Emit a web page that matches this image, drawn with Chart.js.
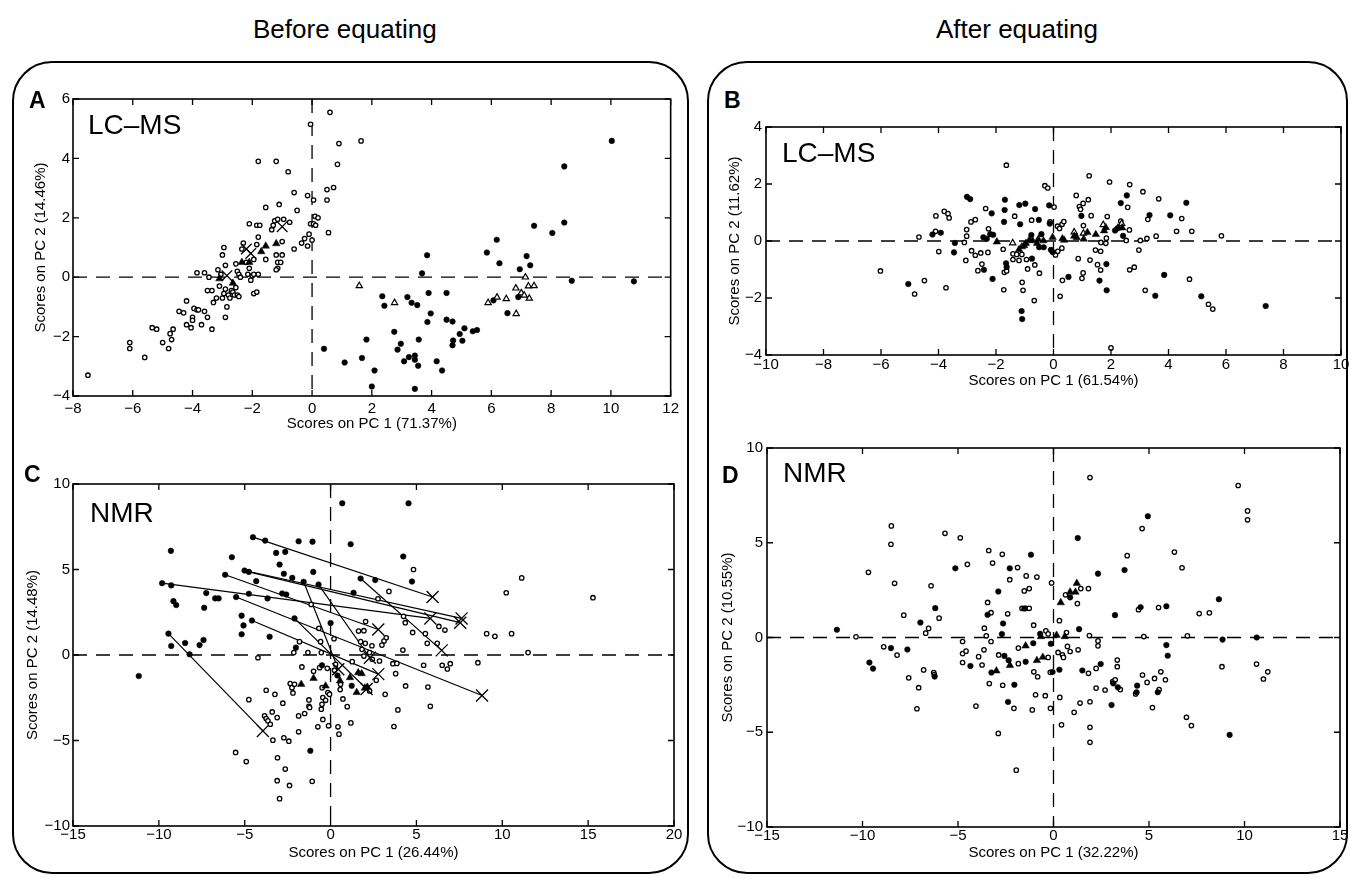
<!DOCTYPE html>
<html><head><meta charset="utf-8">
<script src="https://cdn.jsdelivr.net/npm/chart.js@4.4.1/dist/chart.umd.min.js"></script>
<style>
body{margin:0;background:#fff;width:1350px;height:878px;position:relative;overflow:hidden;font-family:"Liberation Sans",Arial,sans-serif;}
.box{position:absolute;border:2px solid #000;border-radius:40px;box-sizing:border-box;}
.t{position:absolute;white-space:nowrap;color:#000;}
canvas{position:absolute;}
</style></head><body>
<div class="box" style="left:12px;top:61px;width:677px;height:813px"></div>
<div class="box" style="left:707px;top:61px;width:641px;height:813px"></div>
<script>
// ---------- DATA ----------
const titles = ["Before equating", "After equating"];
const panelLetters = ["A", "B", "C", "D"];
const panelNames = ["LC\u2013MS", "LC\u2013MS", "NMR", "NMR"];
const xTitles = ["Scores on PC 1 (71.37%)", "Scores on PC 1 (61.54%)", "Scores on PC 1 (26.44%)", "Scores on PC 1 (32.22%)"];
const yTitles = ["Scores on PC 2 (14.46%)", "Scores on PC 2 (11.62%)", "Scores on PC 2 (14.48%)", "Scores on PC 2 (10.55%)"];
const xRanges = [[-8, 12], [-10, 10], [-15, 20], [-15, 15]];
const yRanges = [[-4, 6], [-4, 4], [-10, 10], [-10, 10]];
const xSteps = [2, 2, 5, 5];
const ySteps = [2, 2, 5, 5];

// Panel A (LC-MS, before)
const A_open = [[-7.5,-3.3],[-6.1,-2.2],[-6.1,-2.4],[-5.6,-2.7],[-5.35,-1.7],[-5.2,-1.75],[-5.0,-2.2],[-4.8,-2.4],[-4.75,-1.9],[-4.7,-2.1],[-4.65,-1.75],[-4.45,-1.15],[-4.3,-1.2],[-4.2,-0.8],[-4.2,-1.6],[-4.05,-1.7],[-4.0,-1.35],[-4.0,-1.45],[-3.95,-1.05],[-3.85,-1.1],[-3.8,-1.1],[-3.7,-1.6],[-3.6,-1.15],[-3.5,-1.35],[-3.35,-1.75],[-3.85,0.15],[-3.6,0.15],[-3.45,0.0],[-3.5,-0.45],[-3.35,-0.45],[-3.3,-0.85],[-3.2,-0.7],[-3.15,0.25],[-3.1,-0.3],[-3.05,0.1],[-3.0,-0.7],[-2.95,-0.55],[-2.9,0.4],[-2.9,-0.4],[-2.85,-1.0],[-2.9,-1.35],[-2.8,-0.6],[-2.75,-0.7],[-2.7,-0.45],[-2.65,-0.5],[-2.6,-0.6],[-2.55,-0.35],[-2.5,-0.6],[-2.45,-0.65],[-3.0,0.75],[-2.95,1.0],[-2.55,0.45],[-2.5,0.2],[-2.45,0.1],[-2.4,0.0],[-2.35,0.95],[-2.3,1.15],[-2.2,0.5],[-2.15,0.1],[-2.1,0.3],[-2.05,-0.1],[-2.0,0.05],[-1.95,0.1],[-1.95,-0.55],[-1.85,-0.5],[-1.95,0.6],[-1.8,0.1],[-2.1,1.8],[-1.85,1.75],[-1.75,1.75],[-1.8,1.35],[-1.85,1.1],[-1.55,2.35],[-1.55,0.6],[-1.35,1.6],[-1.3,1.75],[-1.25,1.9],[-1.15,1.95],[-1.2,0.75],[-1.15,0.3],[-1.2,0.25],[-1.15,0.5],[-1.05,0.5],[-1.0,0.75],[-1.0,1.2],[-0.95,1.95],[-0.75,1.85],[-1.1,2.45],[-0.6,0.95],[-0.6,2.85],[-0.5,2.25],[-1.8,3.9],[-1.2,3.9],[-0.8,3.55],[-0.35,1.15],[-0.25,1.3],[-0.15,1.05],[-0.15,2.75],[-0.1,1.45],[-0.05,1.8],[0.05,1.8],[0.05,2.6],[0.1,2.05],[0.2,2.0],[0.0,1.25],[0.12,1.75],[-0.05,5.15],[0.5,2.95],[0.5,2.6],[0.55,1.5],[0.72,3.02],[0.6,5.55],[0.9,4.5],[1.64,4.59],[0.85,3.8]];
const A_filled = [[0.4,-2.41],[1.09,-2.87],[1.67,-2.72],[1.82,-2.1],[2.0,-3.68],[2.09,-3.14],[2.35,-0.64],[2.42,-0.96],[2.75,-1.84],[2.86,-2.44],[2.97,-2.24],[3.08,-2.83],[3.19,-0.67],[3.24,-2.69],[3.33,-0.86],[3.44,-2.64],[3.44,-2.78],[3.44,-3.76],[3.52,-0.94],[3.55,-2.98],[3.57,-2.1],[3.68,0.13],[3.85,0.74],[3.86,-1.51],[3.9,-0.53],[3.97,-1.22],[4.17,-2.83],[4.35,-3.14],[4.5,-0.53],[4.5,-1.43],[4.7,-1.49],[4.7,-2.29],[4.72,-2.13],[4.94,-1.91],[5.03,-2.14],[5.1,-1.72],[5.38,-1.82],[5.52,-1.78],[5.85,0.83],[6.07,-0.78],[6.18,1.26],[6.27,0.47],[6.54,-1.21],[6.9,-0.67],[6.95,0.27],[7.18,0.71],[7.3,0.4],[7.43,1.73],[8.04,1.49],[8.44,3.73],[8.44,1.84],[8.69,-0.12],[10.03,4.59],[10.77,-0.14]];
const A_openTri = [[1.58,-0.29],[2.76,-0.86],[5.89,-0.86],[6.19,-0.68],[6.5,-0.73],[6.82,-0.37],[6.83,-1.23],[7.0,-0.53],[7.1,-0.61],[7.14,0.0],[7.24,-0.3],[7.27,-0.71],[7.43,-0.29]];
const A_filledTri = [[-1.2,1.13],[-1.55,1.05],[-1.7,0.86],[-2.1,0.5],[-2.35,0.5],[-3.1,-0.05],[-2.65,-0.2]];
const A_cross = [[-1.0,1.7],[-2.2,0.95],[-2.05,0.8],[-2.85,0.05]];

// Panel B (LC-MS, after)
const B_open = [[-6.02,-1.05],[-4.83,-1.86],[-4.68,0.14],[-4.49,-1.39],[-4.09,0.88],[-4.1,0.34],[-3.99,-0.37],[-3.8,1.04],[-3.67,0.96],[-3.63,0.81],[-3.74,-1.64],[-3.1,-0.05],[-3.05,-0.68],[-3.02,0.4],[-3.02,0.17],[-2.87,0.67],[-2.72,0.75],[-2.85,-0.34],[-2.72,-0.5],[-2.63,-1.04],[-2.53,-0.42],[-2.49,-0.81],[-2.36,1.14],[-2.28,-0.4],[-2.26,0.43],[-1.73,-1.71],[-1.71,-1.1],[-1.63,-1.05],[-1.64,2.66],[-1.75,-0.29],[-1.35,0.87],[-1.41,-0.65],[-1.41,-0.45],[-1.28,-0.47],[-1.2,-0.68],[-1.1,-0.47],[-1.09,-1.45],[-1.06,-1.73],[-0.9,-0.98],[-0.94,-0.65],[-0.76,0.73],[-0.65,-0.84],[-0.49,-1.13],[-0.67,-2.09],[-0.3,1.94],[-0.2,1.86],[0.02,1.19],[-0.12,0.67],[0.14,0.52],[0.21,0.44],[0.3,0.59],[0.36,0.68],[0.07,-0.49],[0.15,-0.36],[0.29,-0.25],[0.31,-1.38],[0.23,-1.94],[0.79,1.6],[0.9,1.21],[0.94,1.11],[1.03,1.32],[1.21,1.45],[1.04,0.54],[1.03,-1.12],[0.99,-1.31],[0.86,-0.62],[1.27,-0.67],[1.31,0.89],[1.24,2.29],[1.46,-0.32],[1.64,-0.36],[1.53,-0.83],[1.64,-1.02],[1.84,0.1],[1.82,-0.08],[1.65,-0.05],[1.87,0.86],[1.95,2.07],[2.0,-3.75],[2.34,0.7],[2.53,0.02],[2.64,0.39],[2.58,1.18],[2.65,1.98],[2.81,-0.92],[2.65,-1.01],[2.97,-0.32],[3.02,0.02],[3.25,0.09],[3.28,0.76],[3.11,1.73],[3.19,-1.73],[3.57,0.17],[3.66,1.48],[4.28,0.34],[4.46,0.79],[4.81,0.34],[4.73,-1.34],[5.39,-2.22],[5.54,-2.39],[5.84,0.18]];
const B_filled = [[-5.05,-1.51],[-4.21,0.23],[-3.92,0.29],[-3.43,-0.07],[-3.46,-0.4],[-3.01,1.55],[-2.9,1.47],[-2.44,0.13],[-2.32,0.08],[-2.2,0.24],[-2.1,0.22],[-2.42,-1.01],[-2.15,0.97],[-2.12,-1.33],[-1.69,1.45],[-1.7,1.09],[-1.72,0.67],[-1.65,-0.78],[-1.63,-0.91],[-1.19,1.26],[-0.98,1.31],[-1.16,0.59],[-0.64,1.12],[-0.51,0.74],[-0.15,1.25],[-0.13,0.61],[-0.77,0.21],[-0.42,0.24],[-0.5,-0.22],[-0.34,-0.22],[-0.09,-0.31],[-0.03,-0.39],[-0.75,-0.62],[-1.11,-2.46],[-1.09,-2.74],[0.97,0.88],[0.52,-1.26],[1.6,-1.39],[1.84,-0.81],[1.85,-1.73],[2.34,1.33],[2.55,1.6],[2.42,0.18],[2.14,0.37],[2.22,0.44],[3.34,0.91],[4.06,0.9],[4.62,1.34],[3.85,-1.19],[3.54,-1.92],[5.14,-1.94],[7.38,-2.28]];
const B_filledTri = [[-1.97,-0.03],[-1.2,-0.3],[-1.1,-0.2],[-1.02,-0.16],[-0.96,-0.08],[-0.84,0.03],[-0.73,0.01],[-0.57,-0.08],[-0.53,0.06],[-0.35,0.01],[-0.03,0.13],[0.31,0.08],[0.37,0.03],[0.72,0.17],[0.81,0.12],[1.05,0.07],[1.18,0.3],[1.47,0.23],[1.76,0.36],[1.82,0.47],[2.24,0.46],[2.39,0.46]];
const B_openTri = [[-1.42,-0.07],[0.72,0.31],[1.04,0.27],[1.73,0.57],[2.37,0.61]];

// Panel C (NMR, before)
const C_open = [[-4.23,-0.16],[-4.76,-2.61],[-5.53,-5.7],[-4.91,-6.23],[-3.75,-2.06],[-3.84,-3.56],[-3.75,-3.72],[-3.65,-3.85],[-3.51,-4.05],[-3.4,-3.33],[-3.36,-4.98],[-3.24,-2.3],[-3.11,-3.66],[-3.09,-6.01],[-3.11,-7.35],[-2.97,-8.4],[-2.78,-2.82],[-2.72,-4.84],[-2.64,-6.67],[-2.43,-5.04],[-2.39,-7.63],[-2.35,-1.67],[-2.25,-1.91],[-2.19,-2.22],[-2.14,0.14],[-2.1,-1.71],[-1.86,-3.56],[-1.86,-4.49],[-1.81,0.78],[-1.67,-0.7],[-1.51,-3.42],[-1.32,0.14],[-1.26,-2.63],[-1.26,-3.0],[-1.22,-3.07],[-1.13,2.96],[-1.07,-7.39],[-0.99,-0.95],[-0.74,-4.2],[-0.68,1.56],[-0.64,-0.74],[-0.58,0.78],[-0.54,0.14],[-0.54,-3.17],[-0.5,-2.88],[-0.45,-3.77],[-0.49,-1.91],[-0.45,-2.49],[-0.29,-2.65],[-0.16,-2.2],[-0.06,-2.3],[-0.19,-0.78],[0.2,0.95],[0.29,-0.54],[-0.12,-4.14],[0.43,-4.2],[0.49,-4.63],[4.83,5.0],[3.4,3.72],[2.76,3.29],[2.04,1.96],[1.94,1.42],[1.63,1.4],[1.75,0.78],[2.02,0.68],[1.83,0.33],[1.94,-0.06],[2.41,0.54],[2.27,0.14],[2.43,-0.25],[3.24,1.01],[3.11,0.82],[2.99,0.58],[2.85,-0.35],[1.26,-0.39],[0.23,-0.89],[0.58,-1.71],[0.56,-2.02],[0.72,-2.57],[0.97,-3.02],[1.18,-3.97],[2.66,-1.48],[2.27,-2.1],[3.18,-2.3],[3.63,-0.51],[3.86,-0.49],[3.79,-1.09],[3.92,-3.21],[3.69,-4.18],[4.37,-1.81],[4.21,0.29],[4.25,2.26],[4.35,1.89],[4.78,1.32],[5.52,1.25],[5.63,0.68],[5.42,-0.6],[5.67,-1.87],[5.81,-3.0],[6.21,0.68],[6.31,1.67],[6.66,1.46],[6.5,-0.6],[6.8,-0.82],[6.97,-0.51],[8.58,-0.45],[9.09,1.25],[9.57,1.09],[10.23,3.64],[10.54,1.25],[11.13,4.51],[11.5,0.14],[15.28,3.35]];
const C_filled = [[-11.17,-1.23],[-9.81,4.2],[-9.3,6.09],[-9.28,4.07],[-9.44,1.25],[-9.28,0.53],[-9.15,3.15],[-8.99,2.92],[-8.47,0.7],[-8.21,0.04],[-7.63,0.58],[-7.4,0.88],[-7.36,2.76],[-7.24,3.62],[-6.72,3.31],[-6.52,3.31],[-6.14,4.69],[-5.75,5.72],[-5.5,3.39],[-5.18,2.3],[-5.07,1.73],[-5.18,1.21],[-5.01,4.94],[-4.76,4.86],[-4.76,3.58],[-4.58,2.02],[-4.52,6.89],[-4.33,4.32],[-3.81,6.69],[-3.67,3.31],[-3.55,1.07],[-3.17,5.97],[-2.64,6.03],[-2.97,5.29],[-2.72,4.75],[-2.58,3.54],[-2.82,3.6],[-2.23,4.51],[-2.1,2.14],[-2.02,0.43],[-1.86,6.65],[-1.57,4.28],[-1.05,6.63],[-1.01,4.86],[-0.7,4.12],[0.0,1.87],[-1.18,-5.6],[0.68,8.87],[4.54,8.87],[1.17,6.48],[4.23,5.76],[1.75,4.47],[2.6,4.38],[1.34,3.64],[4.74,4.3],[1.23,-1.8],[-0.5,-0.6],[0.4,-1.2]];
const C_filledTri = [[-1.71,-1.71],[-0.99,-1.36],[-0.29,-1.81],[0.55,-1.51],[1.13,-1.32],[1.61,-1.03],[1.81,-1.09],[1.52,-2.19],[2.0,-1.93],[2.14,-1.88]];
const C_cross = [[5.94,3.39],[7.63,2.14],[7.55,1.89],[5.81,2.14],[2.78,1.49],[8.82,-2.37],[6.47,0.27],[2.29,-0.16],[2.78,-1.12],[0.45,-0.83],[2.1,-1.99],[-3.94,-4.44]];
const C_lineFrom = [[-4.52,6.89],[-5.01,4.94],[-4.76,4.86],[-9.81,4.2],[-6.14,4.69],[-5.5,3.39],[1.75,4.47],[-0.7,4.12],[-4.58,2.02],[-1.57,4.28],[-2.1,2.14],[-9.44,1.25]];
const C_lineTo = [[5.94,3.39],[7.63,2.14],[7.55,1.89],[5.81,2.14],[2.78,1.49],[8.82,-2.37],[6.47,0.27],[2.29,-0.16],[2.78,-1.12],[0.45,-0.83],[2.1,-1.99],[-3.94,-4.44]];

// Panel D (NMR, after)
const D_open = [[-10.34,0.04],[-9.69,3.44],[-8.89,-0.49],[-8.49,5.89],[-8.51,4.92],[-8.32,2.86],[-8.19,-0.93],[-7.84,1.18],[-7.58,-2.13],[-7.15,-3.76],[-7.06,-2.65],[-6.8,-1.71],[-6.69,0.23],[-6.54,0.48],[-6.41,2.73],[-6.27,-1.85],[-6.24,-1.96],[-5.99,1.02],[-5.68,5.5],[-4.88,5.26],[-4.76,-0.21],[-4.76,-0.85],[-4.58,-0.72],[-4.76,-1.32],[-4.51,3.86],[-4.06,-3.62],[-3.92,-1.01],[-3.74,-1.45],[-3.62,0.49],[-3.64,-0.65],[-3.52,0.09],[-3.45,1.85],[-3.39,4.59],[-3.36,-2.43],[-3.27,-0.21],[-3.27,1.31],[-3.19,3.93],[-2.87,-0.92],[-2.89,-5.06],[-2.68,4.39],[-2.66,-2.52],[-2.4,1.25],[-2.29,3.05],[-2.07,-3.74],[-1.95,-7.0],[-1.84,-0.56],[-1.84,-1.38],[-1.88,3.69],[1.91,8.44],[9.67,8.02],[10.16,6.68],[10.16,6.21],[4.64,5.75],[6.33,4.51],[3.86,4.32],[6.73,3.68],[-0.1,2.88],[1.43,2.58],[1.83,2.58],[0.63,2.25],[1.25,1.79],[-1.43,3.25],[-0.87,3.19],[-1.53,2.46],[-1.27,2.58],[-1.65,1.54],[-1.44,1.54],[-1.27,1.54],[-1.04,0.65],[0.31,0.89],[-0.4,0.35],[-0.28,0.19],[0.68,0.26],[4.45,1.47],[5.5,1.58],[7.63,1.26],[8.16,1.3],[1.88,0.1],[4.73,0.05],[7.01,0.09],[0.73,-0.47],[0.87,-0.74],[0.47,-0.91],[0.52,-1.05],[0.24,-0.79],[-0.28,-1.05],[1.29,-0.65],[2.33,-0.18],[2.33,-0.44],[-1.03,-1.81],[-0.83,-2.07],[-0.17,-1.84],[1.83,-1.89],[2.23,-1.63],[2.23,-2.67],[2.7,-2.77],[3.1,-2.33],[3.23,-2.23],[3.34,-1.19],[3.34,-1.54],[3.5,-2.75],[4.3,-2.98],[4.66,-1.98],[4.9,-2.37],[5.29,-2.16],[5.62,-1.81],[5.86,-2.23],[5.53,-2.75],[8.82,-1.54],[10.63,-1.4],[10.99,-2.19],[11.22,-1.81],[6.96,-4.21],[7.22,-4.65],[5.18,-3.7],[1.39,-3.46],[1.91,-3.39],[1.08,-3.95],[0.42,-4.61],[1.91,-4.74],[1.91,-5.53],[-0.16,-3.74],[-0.43,-3.07],[-0.94,-3.02],[0.33,-3.16],[-1.11,-3.82]];
const D_filled = [[-11.34,0.41],[-9.64,-1.32],[-9.45,-1.64],[-8.51,-0.56],[-7.65,-0.63],[-6.97,0.79],[-6.19,1.55],[-6.22,-2.06],[-5.14,3.65],[-4.35,-1.5],[-3.45,1.2],[-3.25,-1.85],[-2.89,2.43],[-2.7,0.18],[-2.64,0.74],[-2.57,-0.97],[-2.35,-1.2],[-2.38,-3.4],[-2.29,3.65],[-2.05,-2.49],[-1.18,4.37],[4.94,6.4],[1.27,5.25],[3.72,3.56],[2.33,3.37],[0.87,2.12],[3.22,1.18],[4.56,1.6],[5.91,1.65],[8.66,2.02],[1.34,0.44],[-0.7,0.19],[-1.06,-0.3],[-0.14,-0.33],[5.91,-0.4],[5.98,-0.96],[8.85,-0.11],[10.64,0.0],[-1.46,-1.28],[0.31,-1.7],[-0.05,-1.82],[1.51,-1.74],[2.47,-1.4],[3.13,-2.42],[3.37,-2.63],[4.38,-2.54],[4.35,-2.89],[5.46,-2.89],[3.04,-3.56],[9.22,-5.14],[-1.53,1.53]];
const D_filledTri = [[1.22,2.86],[0.87,2.4],[1.15,2.4],[0.38,1.84],[-0.66,0.05],[0.16,0.12],[0.59,0.05],[-1.46,-0.44],[-0.87,-1.21],[-0.56,-1.04],[-2.28,-1.47],[-2.99,-1.76]];

// ---------- RENDERING ----------
const FONT = '"Liberation Sans", Arial, sans-serif';
function txt(s, x, baseline, size, bold, anchor) {
  const d = document.createElement('div');
  d.className = 't';
  d.textContent = s;
  d.style.fontSize = size + 'px';
  d.style.lineHeight = size + 'px';
  d.style.fontWeight = bold ? 'bold' : 'normal';
  d.style.top = (baseline - 0.8465 * size) + 'px';
  document.body.appendChild(d);
  if (anchor === 'center') d.style.left = (x - d.offsetWidth / 2) + 'px';
  else d.style.left = x + 'px';
}

const pts = a => a.map(([x, y]) => ({x, y}));
const openC = a => ({data: pts(a), pointStyle: 'circle', pointRadius: 2.2, pointBackgroundColor: '#fff', pointBorderColor: '#000', pointBorderWidth: 1.3, showLine: false});
const fillC = a => ({data: pts(a), pointStyle: 'circle', pointRadius: 2.8, pointBackgroundColor: '#000', pointBorderColor: '#000', pointBorderWidth: 0.5, showLine: false});
const fillT = a => ({data: pts(a), pointStyle: 'triangle', pointRadius: 4.3, pointBackgroundColor: '#000', pointBorderColor: '#000', pointBorderWidth: 0.5, showLine: false});
const openT = a => ({data: pts(a), pointStyle: 'triangle', pointRadius: 3.6, pointBackgroundColor: '#fff', pointBorderColor: '#000', pointBorderWidth: 1.2, showLine: false});
const cross = (a, r) => ({data: pts(a), pointStyle: 'crossRot', pointRadius: r, pointBorderColor: '#000', pointBorderWidth: 1.3, showLine: false});
const seg = (p, q) => ({data: pts([p, q]), showLine: true, borderColor: '#000', borderWidth: 1.2, pointRadius: 0, fill: false});

const framePlugin = {
  id: 'frame',
  beforeDatasetsDraw(chart) {
    const {ctx, chartArea: a, scales: {x, y}} = chart;
    const x0 = x.getPixelForValue(0), y0 = y.getPixelForValue(0);
    ctx.save();
    ctx.strokeStyle = '#000'; ctx.lineWidth = 1.3; ctx.setLineDash([14, 9]);
    ctx.beginPath(); ctx.moveTo(x0, a.top); ctx.lineTo(x0, a.bottom); ctx.stroke();
    ctx.beginPath(); ctx.moveTo(a.left, y0); ctx.lineTo(a.right, y0); ctx.stroke();
    ctx.restore();
  },
  afterDatasetsDraw(chart) {
    const {ctx, chartArea: a, scales: {x, y}} = chart;
    ctx.save();
    ctx.strokeStyle = '#000'; ctx.lineWidth = 1.6; ctx.setLineDash([]);
    ctx.strokeRect(a.left, a.top, a.right - a.left, a.bottom - a.top);
    ctx.lineWidth = 1.3;
    ctx.beginPath();
    const TL = 6;
    x.ticks.forEach(t => {
      const px = x.getPixelForValue(t.value);
      ctx.moveTo(px, a.bottom); ctx.lineTo(px, a.bottom - TL);
      ctx.moveTo(px, a.top); ctx.lineTo(px, a.top + TL);
    });
    y.ticks.forEach(t => {
      const py = y.getPixelForValue(t.value);
      ctx.moveTo(a.left, py); ctx.lineTo(a.left + TL, py);
      ctx.moveTo(a.right, py); ctx.lineTo(a.right - TL, py);
    });
    ctx.stroke();
    ctx.restore();
  }
};

const fmt = v => v < 0 ? '\u2212' + Math.abs(v) : String(v);

function panel(i, area, lay, datasets) {
  const YW = 60, XH = 45, PT = 10, PR = 10;
  const [L, T, R, B] = area;
  const c = document.createElement('canvas');
  const w = R - L + YW + PR, h = B - T + XH + PT;
  c.width = w; c.height = h;
  c.style.left = (L - YW) + 'px'; c.style.top = (T - PT) + 'px';
  c.style.width = w + 'px'; c.style.height = h + 'px';
  document.body.appendChild(c);
  const font = {family: FONT, size: 15};
  new Chart(c, {
    type: 'scatter',
    data: {datasets},
    options: {
      responsive: false, animation: false, devicePixelRatio: 1,
      layout: {padding: {top: PT, right: PR, left: 0, bottom: 0}},
      plugins: {legend: {display: false}, tooltip: {enabled: false}},
      scales: {
        x: {type: 'linear', min: xRanges[i][0], max: xRanges[i][1],
          grid: {display: false, drawTicks: false}, border: {display: false},
          ticks: {stepSize: xSteps[i], font, color: '#000', padding: lay.xtp, maxRotation: 0, autoSkip: false, callback: fmt},
          title: {display: true, text: xTitles[i], font, color: '#000', padding: {top: 0, bottom: lay.xtb}},
          afterFit(s) { s.height = XH; }},
        y: {type: 'linear', min: yRanges[i][0], max: yRanges[i][1],
          grid: {display: false, drawTicks: false}, border: {display: false},
          ticks: {stepSize: ySteps[i], font, color: '#000', padding: lay.ytp, autoSkip: false, callback: fmt},
          title: {display: true, text: yTitles[i], font, color: '#000', padding: {top: lay.ytt, bottom: 0}},
          afterFit(s) { s.width = YW; }}
      }
    },
    plugins: [framePlugin]
  });
}

// Panel A
panel(0, [73, 97, 673, 396], {xtp: 4, xtb: 8, ytp: 3, ytt: 19}, [
  fillT(A_filledTri), cross(A_cross, 7.5), openT(A_openTri), fillC(A_filled), openC(A_open)
]);
// Panel B
panel(1, [766, 124, 1341, 355], {xtp: 1, xtb: 10, ytp: 4, ytt: 20}, [
  fillT(B_filledTri), openT(B_openTri), fillC(B_filled), openC(B_open)
]);
// Panel C
const C_segs = C_lineFrom.map((p, k) => seg(p, C_lineTo[k]));
panel(2, [73, 482, 674, 826], {xtp: 0, xtb: 9, ytp: 3, ytt: 11}, [
  cross(C_cross, 8.5), fillT(C_filledTri), fillC(C_filled), openC(C_open), ...C_segs
]);
// Panel D
panel(3, [767, 445, 1340, 827], {xtp: 0, xtb: 10, ytp: 4, ytt: 12}, [
  fillT(D_filledTri), fillC(D_filled), openC(D_open)
]);

// Text labels
txt(titles[0], 345, 38, 26, false, 'center');
txt(titles[1], 1017, 38, 26, false, 'center');
txt(panelLetters[0], 29, 108, 23, true);
txt(panelLetters[1], 724, 108, 23, true);
txt(panelLetters[2], 24, 482, 23, true);
txt(panelLetters[3], 722, 483, 23, true);
txt(panelNames[0], 88, 135, 28, false);
txt(panelNames[1], 782, 163, 28, false);
txt(panelNames[2], 90, 523, 28, false);
txt(panelNames[3], 783, 483, 28, false);
</script>
</body></html>
